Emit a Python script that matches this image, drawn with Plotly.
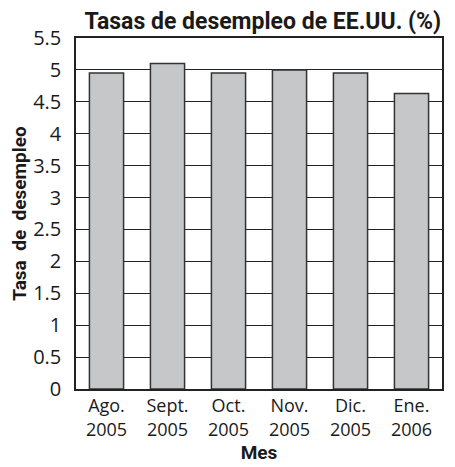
import plotly.graph_objects as go

months = ["Ago.", "Sept.", "Oct.", "Nov.", "Dic.", "Ene."]
years = ["2005", "2005", "2005", "2005", "2005", "2006"]
rates = [4.95, 5.1, 4.95, 5.0, 4.95, 4.63]
y_ticks = [0, 0.5, 1, 1.5, 2, 2.5, 3, 3.5, 4, 4.5, 5, 5.5]
y_tick_text = ["0", "0.5", "1", "1.5", "2", "2.5", "3", "3.5", "4", "4.5", "5", "5.5"]

labels = [f"{m}<br>{y}" for m, y in zip(months, years)]

fig = go.Figure()
fig.add_trace(go.Bar(
    x=labels, y=rates,
    marker=dict(color="#c6c7c9", line=dict(color="#333333", width=1.5)),
    width=0.56, hoverinfo="skip",
))

tick_font = dict(size=20, family="Open Sans", color="#1a1a1a")
xtick_font = dict(size=18, family="Open Sans", color="#1a1a1a")

# page body has an 8px default margin, so the figure is sized/offset accordingly
fig.update_layout(
    width=447, height=459,
    margin=dict(l=68, r=13, t=30, b=78),
    paper_bgcolor="white", plot_bgcolor="white",
    title=dict(text="<b>Tasas de desempleo de EE.UU. (%)</b>", x=0.57, xanchor="center", y=0.972, yanchor="middle",
               font=dict(family="Roboto", size=23, color="#1a1a1a")),
    font=dict(family="Open Sans", color="#1a1a1a"),
    showlegend=False,
    xaxis=dict(
        tickfont=xtick_font, ticklabelstandoff=0,
        title=dict(text="<b>Mes</b>", font=dict(family="Roboto", size=19, color="#1a1a1a"), standoff=5),
        showline=True, linecolor="#222", linewidth=1.5, mirror=True,
        ticks="", showgrid=False, automargin=False,
    ),
    yaxis=dict(
        range=[0, 5.5], tickvals=y_ticks, ticktext=y_tick_text,
        tickfont=tick_font, ticklabelstandoff=9,
        title=dict(text="<b>Tasa&nbsp;&nbsp;de&nbsp;&nbsp;desempleo</b>", font=dict(family="Roboto", size=19, color="#1a1a1a"), standoff=8),
        showgrid=True, gridcolor="#222", gridwidth=1,
        showline=True, linecolor="#222", linewidth=1.5, mirror=True,
        ticks="", zeroline=False, automargin=False,
    ),
)

fig.write_html("out.html")
